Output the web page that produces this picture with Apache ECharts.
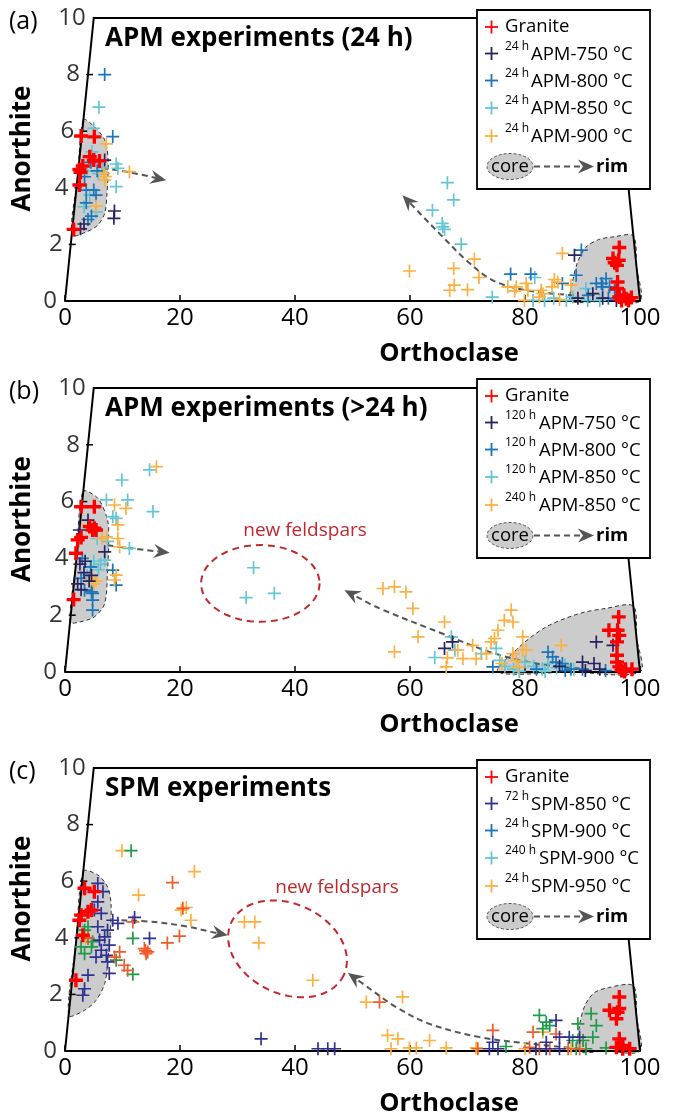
<!DOCTYPE html>
<html><head><meta charset="utf-8">
<script src="https://cdn.jsdelivr.net/npm/echarts@6/dist/echarts.min.js"></script>
<style>html,body{margin:0;padding:0;background:#fff}#c{width:673px;height:1118px}</style>
</head><body><div id="c"></div>
<script>
// ---------- tick labels ----------
const X_TICKS = [0, 20, 40, 60, 80, 100];
const Y_TICKS = [0, 2, 4, 6, 8, 10];
const AN_MAX = 10;

// ---------- panel (a): APM 24 h  [Orthoclase axis position, Anorthite] ----------
const A_granite = [[2.8,5.83],[5.1,5.8],[4.3,5.1],[5.0,4.98],[6.0,4.95],[3.1,4.77],[2.5,4.65],[2.7,4.55],[2.5,4.1],[1.5,2.53],[96.4,1.89],[95.3,1.5],[96.3,1.44],[96.0,1.26],[95.6,1.35],[96.1,0.67],[96.0,0.44],[96.4,0.14],[97.6,0.08],[98.5,0.12],[96.8,0.02],[97.2,0.2],[98.0,0.02]];
const A_750 = [[6.9,4.98],[8.6,3.18],[8.5,2.92],[3.3,2.72],[2.7,2.55],[88.6,1.62],[91.8,0.26],[95.9,0.02],[93.5,0.1],[89.2,0.1]];
const A_800 = [[6.9,8.0],[8.3,5.81],[3.4,4.39],[3.7,3.92],[5.0,3.92],[5.4,3.74],[3.7,3.47],[4.0,2.88],[4.6,3.0],[5.6,4.6],[4.5,4.9],[77.5,0.95],[81.0,0.95],[89.8,1.8],[88.9,0.91],[86.5,0.62],[92.4,0.62],[94.1,0.79],[93.5,0.5],[94.7,0.5],[95.6,0.38],[93.3,0.62],[91.0,0.2],[94.5,0.1]];
const A_850 = [[5.9,6.85],[5.0,6.1],[4.7,5.27],[8.9,4.84],[9.2,4.69],[8.9,4.04],[4.3,3.74],[3.3,3.33],[5.4,3.15],[5.8,4.5],[3.9,4.6],[6.5,4.7],[66.5,4.18],[67.6,3.57],[63.9,3.21],[65.6,2.74],[65.7,2.62],[66.0,2.53],[68.9,2.01],[74.3,0.14],[81.7,0.83],[81.4,0.02],[83.4,0.02],[90.6,0.44],[93.0,0.02],[90.9,0.02],[87.2,0.02],[88.3,0.14],[85.0,0.1]];
const A_900 = [[7.2,5.55],[6.75,4.51],[11.2,4.57],[6.9,4.27],[5.4,3.35],[7.0,4.4],[59.9,1.06],[71.2,1.48],[67.6,1.15],[72.0,0.83],[67.7,0.56],[66.9,0.38],[70.0,0.4],[78.5,0.5],[78.2,0.35],[80.2,0.62],[80.5,0.38],[82.8,0.38],[83.1,0.26],[86.5,1.68],[85.1,0.76],[85.7,0.67],[84.7,0.5],[88.0,0.56],[79.9,0.02],[82.5,0.14],[86.0,0.05],[77.0,0.5]];
const A_coreL = [[3.2,6.4],[5.1,6.16],[6.9,5.69],[7.5,4.98],[7.3,3.8],[6.9,3.1],[5.7,2.68],[3.7,2.44],[1.17,2.33],[2.2,4.4]];
const A_coreR = [[88.0,0],[88.3,0.7],[89.2,1.4],[90.6,1.9],[92.8,2.17],[95.5,2.27],[98.85,2.3],[99.4,1.2],[100,0],[94,0]];
const A_arrowL = [[6.5,4.7],[11.2,4.55],[17.6,4.27]];
const A_arrowR = [[88.5,0.2],[80.2,0.38],[74.4,0.73],[69.8,1.44],[65.1,2.39],[61.7,3.1],[58.7,3.74]];

// ---------- panel (b): APM >24 h ----------
const B_granite = [[2.8,5.82],[5.1,5.82],[4.3,5.12],[5.1,5.06],[4.8,5.0],[5.4,5.0],[2.8,4.74],[2.2,4.65],[1.9,4.18],[1.5,2.55],[96.3,1.94],[94.6,1.47],[96.1,1.47],[96.4,1.29],[96.0,1.06],[96.0,0.59],[96.0,0.35],[96.4,0.18],[97.5,0.1],[98.6,0.1],[97.3,0.02],[96.8,0.05]];
const B_750 = [[4.0,5.35],[2.5,5.0],[6.9,4.23],[3.5,3.9],[2.6,3.8],[3.3,3.5],[4.6,3.4],[2.2,3.1],[2.8,2.9],[4.2,3.2],[66.0,0.83],[67.4,1.06],[92.4,1.06],[95.3,0.94],[90.0,0.35],[92.0,0.3],[93.0,0.1],[90.5,0.05],[86.0,0.2]];
const B_800 = [[8.3,3.59],[8.9,3.06],[4.8,2.77],[4.8,2.18],[3.4,2.88],[4.6,2.82],[4.8,2.53],[3.0,4.0],[4.5,3.7],[2.8,3.3],[74.4,0.18],[84.8,0.53],[85.4,0.35],[84.0,0.7],[86.5,0.3],[88.0,0.1],[82.0,0.1],[90.0,0.1],[94.0,0.05],[87.0,0.05]];
const B_850 = [[14.7,7.12],[9.9,6.76],[7.2,6.06],[10.9,6.06],[15.3,5.65],[8.3,5.47],[8.9,5.41],[11.2,4.35],[6.9,3.94],[7.4,4.6],[5.6,4.7],[5.0,3.9],[6.2,3.8],[5.8,3.6],[4.4,3.7],[3.8,3.4],[32.8,3.67],[31.5,2.62],[36.4,2.77],[67.2,1.24],[67.8,0.77],[64.3,0.51],[72.4,0.65],[75.0,0.83],[75.6,0.41],[76.5,0.2],[78.0,0.1],[80.0,0.35],[81.5,0.2],[83.0,0.1],[84.0,0.3],[85.5,0.15],[87.0,0.25],[88.5,0.1],[83.5,0.02],[79.0,0.02]];
const B_240 = [[15.9,7.23],[8.6,5.88],[10.6,5.76],[9.2,5.18],[7.2,4.76],[9.2,4.7],[9.5,4.41],[8.9,3.41],[8.6,3.24],[5.0,3.1],[5.4,3.2],[4.7,3.3],[6.4,4.7],[4.0,5.2],[55.3,2.94],[57.3,3.0],[59.3,2.82],[60.5,2.24],[66.0,1.76],[61.4,1.24],[57.3,0.71],[77.6,2.18],[76.4,1.82],[77.9,1.76],[75.3,1.47],[74.7,1.18],[74.1,1.06],[79.6,1.24],[80.2,0.77],[86.3,0.94],[68.3,0.77],[70.9,0.94],[69.2,0.47],[71.5,0.47],[66.3,0.18],[73.3,0.65],[77.9,0.65],[78.8,0.18],[79.6,0.77],[78.5,0.41],[66.5,0.5],[76.0,0.3]];
const B_coreL = [[3.1,6.35],[5.7,6.12],[7.4,5.35],[7.6,4.65],[7.4,3.59],[6.9,2.41],[5.1,1.94],[2.5,1.76],[0.88,1.76],[2.0,4.0]];
const B_coreR = [[75.3,0],[79.0,0.88],[83.7,1.59],[89.5,2.06],[94.1,2.24],[98.84,2.32],[99.4,1.2],[100,0],[88,0]];
const B_arrowL = [[7.4,4.46],[11.2,4.36],[18.2,4.2]];
const B_arrowR = [[89.5,0.12],[81.9,0.3],[73.8,0.71],[66.3,1.3],[54.7,2.24],[48.6,2.88]];
const B_newFsp = {center:[33.97,3.12], rx:10.3, ry:1.35, rot:0};

// ---------- panel (c): SPM ----------
const C_granite = [[3.4,5.75],[5.1,5.63],[2.8,4.8],[2.5,4.62],[4.0,4.92],[4.6,4.98],[3.1,4.09],[1.9,2.5],[96.4,1.91],[94.7,1.44],[96.1,1.37],[95.9,1.14],[96.4,1.5],[96.4,0.43],[95.9,0.13],[97.0,0.08],[98.2,0.08],[97.0,0.2]];
const C_850 = [[5.7,5.92],[6.6,5.63],[5.7,5.27],[6.3,4.86],[5.1,4.98],[8.3,4.62],[9.2,4.51],[7.4,4.27],[5.7,4.39],[6.9,4.03],[6.0,3.92],[7.7,3.74],[6.3,3.56],[7.2,3.38],[5.4,3.32],[7.4,3.15],[7.7,2.74],[4.0,2.68],[3.4,2.2],[3.1,1.97],[12.1,4.72],[14.7,3.98],[34.1,0.43],[44.0,0.08],[45.7,0.08],[46.9,0.08],[74.4,0.31],[73.8,0.08],[75.3,0.08],[85.4,1.08],[86.0,0.49],[87.7,0.49],[89.5,0.49],[81.9,0.08],[83.7,0.08],[86.0,0.08],[83.7,0.31]];
const C_900 = [[11.5,7.08],[11.8,3.98],[11.8,2.71],[8.9,3.21],[3.4,4.27],[4.0,3.98],[2.8,3.68],[4.6,3.68],[3.4,3.44],[4.8,3.86],[4.0,4.39],[76.7,0.16],[82.5,1.26],[83.7,1.02],[83.1,0.79],[84.3,0.9],[89.2,0.96],[91.5,1.32],[92.4,0.9],[91.8,0.49],[90.1,0.37],[88.3,0.37],[94.1,0.11],[90.6,0.08],[88.9,0.08]];
const C_240 = [[18.7,5.95],[20.5,5.04],[17.8,3.82],[19.9,4.06],[13.8,3.62],[14.4,3.5],[14.1,3.44],[14.0,3.55],[9.5,3.5],[8.6,3.32],[10.3,3.03],[10.9,2.85],[11.8,4.56],[4.0,4.0],[54.7,1.73],[71.8,0.08],[74.4,0.73],[80.8,0.13],[81.4,0.67],[82.5,0.08],[84.3,0.08],[85.4,0.6],[87.5,0.08],[89.5,0.08]];
const C_950 = [[9.9,7.08],[22.5,6.34],[12.8,5.51],[21.1,5.07],[20.2,4.98],[21.9,4.62],[3.6,4.0],[31.2,4.56],[33.0,4.56],[33.7,3.82],[43.1,2.5],[52.4,1.73],[58.7,1.91],[56.1,0.55],[57.9,0.43],[56.7,0.08],[59.9,0.11],[61.1,0.11],[63.4,0.37],[66.3,0.11],[71.5,0.11],[83.1,0.67],[90.1,0.37],[80.0,0.08],[88.0,0.1]];
const C_coreL = [[3.17,6.34],[5.7,6.22],[7.4,5.8],[8.0,5.22],[7.9,4.27],[7.4,3.09],[6.9,2.38],[5.4,1.79],[3.4,1.44],[0.63,1.26],[1.9,3.8]];
const C_coreR = [[89.3,0],[89.5,0.9],[90.4,1.6],[92.0,2.05],[94.5,2.24],[98.85,2.3],[99.4,1.2],[100,0],[94,0]];
const C_arrowL = [[9.8,4.62],[15.6,4.56],[21.4,4.39],[25.4,4.21],[28.3,4.09]];
const C_arrowR = [[89.5,0.08],[80.8,0.26],[72.1,0.49],[63.4,0.96],[57.6,1.55],[53.0,2.2],[49.2,2.76]];
const C_newFsp = {center:[38.7,3.61], rx:10.8, ry:1.59, rot:25};

// ---------- styling ----------
const FONT = '"Open Sans", Lato, sans-serif';
const RED = '#ff0000', NAVY = '#27235f', NAVY_C = '#2e3192', BLUE = '#1b75bb', CYAN = '#62c6d4', ORANGE = '#fbb040', GREEN = '#1e9b48', ORANGERED = '#f15a29';
const GRIDS = [
  {left:65, width:575, top:18, height:283},
  {left:65, width:575, top:388, height:284},
  {left:65, width:575, top:768, height:283}
];
const PLUS_THIN = 'path://M4.35,0H5.65V4.35H10V5.65H5.65V10H4.35V5.65H0V4.35H4.35Z';
const PLUS_THICK = 'path://M3.8,0H6.2V3.8H10V6.2H6.2V10H3.8V6.2H0V3.8H3.8Z';
const leftEdge = an => an / 2;          // Or = 0 edge of the ternary slice
const rightEdge = an => 100 - an / 2;   // Ab = 0 edge

function ellipsePts(cx, cy, rx, ry, rotDeg) {
  const th = rotDeg * Math.PI / 180, pts = [];
  for (let k = 0; k < 72; k++) {
    const t = k / 72 * 2 * Math.PI;
    pts.push([cx + rx*Math.cos(t)*Math.cos(th) - ry*Math.sin(t)*Math.sin(th),
              cy + rx*Math.cos(t)*Math.sin(th) + ry*Math.sin(t)*Math.cos(th)]);
  }
  return pts;
}
function scatter(i, data, color, thick) {
  return {type:'scatter', xAxisIndex:i, yAxisIndex:i, data, symbol: thick ? PLUS_THICK : PLUS_THIN,
    symbolSize: thick ? 14 : 13, itemStyle:{color, opacity:1}, z: thick ? 6 : 5, silent:true, clip:false};
}
function custom(i, z, build) {
  return {type:'custom', xAxisIndex:i, yAxisIndex:i, silent:true, z, clip:false, data:[[0,0]],
    renderItem:(params, api) => build(api)};
}
function coreSeries(i, pts) {
  return custom(i, 1, api => ({type:'polygon', shape:{points: pts.map(p => api.coord(p)), smooth:0.3},
    style:{fill:'#cccccc', stroke:'#333', lineWidth:1, lineDash:[4,3]}}));
}
function arrowSeries(i, pts) {
  return custom(i, 2, api => {
    const p = pts.map(d => api.coord(d)); const n = p.length;
    const a = p[n-2], tip = p[n-1];
    const ang = Math.atan2(tip[1]-a[1], tip[0]-a[0]);
    const L = 16, W = 7, c = Math.cos(ang), s = Math.sin(ang);
    const base = [tip[0]-L*c, tip[1]-L*s];
    const notch = [tip[0]-L*0.65*c, tip[1]-L*0.65*s];
    const l = [base[0]+W*s, base[1]-W*c], r = [base[0]-W*s, base[1]+W*c];
    return {type:'group', children:[
      {type:'polyline', shape:{points: p.slice(0, n-1).concat([notch]), smooth:0.35}, style:{stroke:'#555', lineWidth:2, lineDash:[6,4], fill:'none'}},
      {type:'polygon', shape:{points:[tip, l, notch, r]}, style:{fill:'#555'}}
    ]};
  });
}
function ellipseSeries(i, e) {
  return custom(i, 2, api => {
    const c = api.coord(e.center); const sz = api.size([e.rx, e.ry]);
    return {type:'polygon', shape:{points: ellipsePts(c[0], c[1], sz[0], sz[1], e.rot)},
      style:{fill:'none', stroke:'#c1272d', lineWidth:2, lineDash:[7,5]}};
  });
}
function frameSeries(i) {
  const F = [[leftEdge(0),0],[leftEdge(AN_MAX),AN_MAX],[rightEdge(AN_MAX),AN_MAX],[rightEdge(0),0]];
  return custom(i, 3, api => ({type:'group', children:[
    {type:'polyline', shape:{points: F.map(p => api.coord(p))}, style:{stroke:'#000', lineWidth:2, fill:'none'}}
  ].concat(Y_TICKS.slice(1, -1).map(v => {
    const q = api.coord([leftEdge(v), v]);
    return {type:'line', shape:{x1:q[0]-2, y1:q[1], x2:q[0]+5, y2:q[1]}, style:{stroke:'#000', lineWidth:1.5}};
  }))}));
}
function yLabelSeries(i) {
  return {type:'scatter', xAxisIndex:i, yAxisIndex:i, silent:true, clip:false, z:7, symbolSize:0,
    data: Y_TICKS.map(v => [leftEdge(v), v]),
    label:{show:true, position:'left', distance:8, formatter: p => String(p.value[1]), fontSize:24, fontFamily:FONT, color:'#000'}};
}

const series = [
  coreSeries(0, A_coreL), coreSeries(0, A_coreR), arrowSeries(0, A_arrowL), arrowSeries(0, A_arrowR), frameSeries(0), yLabelSeries(0),
  scatter(0, A_850, CYAN), scatter(0, A_800, BLUE), scatter(0, A_900, ORANGE), scatter(0, A_750, NAVY), scatter(0, A_granite, RED, true),
  coreSeries(1, B_coreL), coreSeries(1, B_coreR), arrowSeries(1, B_arrowL), arrowSeries(1, B_arrowR), ellipseSeries(1, B_newFsp), frameSeries(1), yLabelSeries(1),
  scatter(1, B_850, CYAN), scatter(1, B_800, BLUE), scatter(1, B_240, ORANGE), scatter(1, B_750, NAVY), scatter(1, B_granite, RED, true),
  coreSeries(2, C_coreL), coreSeries(2, C_coreR), arrowSeries(2, C_arrowL), arrowSeries(2, C_arrowR), ellipseSeries(2, C_newFsp), frameSeries(2), yLabelSeries(2),
  scatter(2, C_950, ORANGE), scatter(2, C_900, GREEN), scatter(2, C_240, ORANGERED), scatter(2, C_850, NAVY_C), scatter(2, C_granite, RED, true)
];

// ---------- text / legends ----------
function txt(x, y, text, o) {
  o = o || {};
  return {type:'text', x, y, z:100, silent:true, rotation:o.rot || 0,
    style:{text, fontSize:o.size || 18, fontFamily:FONT, fontWeight:o.weight || 'normal', fill:o.color || '#000',
      textAlign:o.align || 'left', textVerticalAlign:'middle', align:o.align || 'left', verticalAlign:'middle'}};
}
function legendEls(top, rows) {
  const els = [{type:'rect', z:99, shape:{x:477, y:top, width:173, height:179}, style:{fill:'#fff', stroke:'#000', lineWidth:1.8}}];
  const dy = [17, 43.5, 70.5, 98, 126];
  rows.forEach((r, k) => {
    const y = top + dy[k], t = 1.8;
    els.push({type:'rect', z:100, shape:{x:485, y:y-t/2, width:13, height:t}, style:{fill:r.c}});
    els.push({type:'rect', z:100, shape:{x:491.5-t/2, y:y-6.5, width:t, height:13}, style:{fill:r.c}});
    if (r.sup) { els.push(txt(505, y-7, r.sup, {size:12})); els.push(txt(r.tx, y+1, r.text, {size:18.5})); }
    else els.push(txt(505, y, r.text, {size:18.5}));
  });
  const cy = top + 156.5;
  els.push({type:'polygon', z:100, shape:{points: ellipsePts(510, cy, 23, 13, 0)}, style:{fill:'#ccc', stroke:'#555', lineWidth:1, lineDash:[3,2]}});
  els.push(txt(510, cy, 'core', {size:18.5, align:'center'}));
  els.push({type:'line', z:100, shape:{x1:534, y1:cy, x2:584, y2:cy}, style:{stroke:'#555', lineWidth:2, lineDash:[6,4]}});
  els.push({type:'polygon', z:100, shape:{points:[[594,cy],[578,cy-7],[583,cy],[578,cy+7]]}, style:{fill:'#555'}});
  els.push(txt(596, cy, 'rim', {size:18.5, weight:'bold'}));
  return els;
}
const PANEL_TOPS = [18, 388, 768];
const PANEL_LABELS = ['(a)', '(b)', '(c)'];
const TITLES = ['APM experiments (24 h)', 'APM experiments (>24 h)', 'SPM experiments'];
let graphic = [];
PANEL_TOPS.forEach((t, i) => {
  const g = GRIDS[i];
  graphic.push(txt(9, t + 4, PANEL_LABELS[i], {size:25}));
  graphic.push(txt(105, t + 21, TITLES[i], {size:26, weight:'bold'}));
  graphic.push(txt(23, t + g.height/2 - 11, 'Anorthite', {size:26, weight:'bold', align:'center', rot:Math.PI/2}));
  graphic.push(txt(449, t + g.height + 53, 'Orthoclase', {size:25.5, weight:'bold', align:'center'}));
});
graphic.push(txt(305, 531, 'new feldspars', {size:19, color:'#c1272d', align:'center'}));
graphic.push(txt(337, 888, 'new feldspars', {size:19, color:'#c1272d', align:'center'}));
graphic = graphic.concat(legendEls(10, [
  {c:RED, text:'Granite'},
  {c:NAVY, sup:'24 h', text:'APM-750 °C', tx:531},
  {c:BLUE, sup:'24 h', text:'APM-800 °C', tx:531},
  {c:CYAN, sup:'24 h', text:'APM-850 °C', tx:531},
  {c:ORANGE, sup:'24 h', text:'APM-900 °C', tx:531}
]));
graphic = graphic.concat(legendEls(379, [
  {c:RED, text:'Granite'},
  {c:NAVY, sup:'120 h', text:'APM-750 °C', tx:539},
  {c:BLUE, sup:'120 h', text:'APM-800 °C', tx:539},
  {c:CYAN, sup:'120 h', text:'APM-850 °C', tx:539},
  {c:ORANGE, sup:'240 h', text:'APM-850 °C', tx:539}
]));
graphic = graphic.concat(legendEls(760, [
  {c:RED, text:'Granite'},
  {c:NAVY_C, sup:'72 h', text:'SPM-850 °C', tx:531},
  {c:BLUE, sup:'24 h', text:'SPM-900 °C', tx:531},
  {c:CYAN, sup:'240 h', text:'SPM-900 °C', tx:539},
  {c:ORANGE, sup:'24 h', text:'SPM-950 °C', tx:531}
]));

const option = {
  animation:false, backgroundColor:'#fff', textStyle:{fontFamily:FONT},
  grid: GRIDS,
  xAxis: [0,1,2].map(i => ({gridIndex:i, type:'value', min:X_TICKS[0], max:X_TICKS[X_TICKS.length-1], interval:X_TICKS[1]-X_TICKS[0], z:4,
    axisLine:{show:true, onZero:false, lineStyle:{color:'#000', width:2}},
    axisTick:{show:true, inside:true, length:6, lineStyle:{color:'#000', width:1.5}},
    axisLabel:{show:true, color:'#000', fontSize:24, fontFamily:FONT, margin:5},
    splitLine:{show:false}})),
  yAxis: [0,1,2].map(i => ({gridIndex:i, type:'value', min:Y_TICKS[0], max:AN_MAX, show:false})),
  series, graphic
};
const chart = echarts.init(document.getElementById('c'), null, {renderer:'canvas'});
chart.setOption(option);
</script></body></html>
